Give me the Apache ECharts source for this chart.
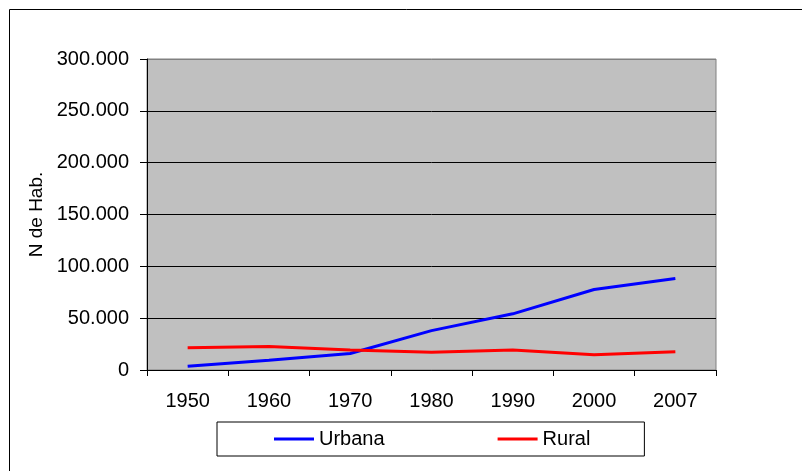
<!DOCTYPE html>
<html>
<head>
<meta charset="utf-8">
<script src="https://cdn.jsdelivr.net/npm/echarts@6/dist/echarts.min.js"></script>
<style>
html,body{margin:0;padding:0;background:#fff;}
#chart{width:802px;height:471px;}
</style>
</head>
<body>
<div id="chart"></div>
<script>
var years = ['1950','1960','1970','1980','1990','2000','2007'];
var urbana = [3600, 9400, 15900, 38000, 54200, 77600, 88300];
var rural = [21400, 22700, 19200, 17200, 19200, 14600, 17500];
var yTicks = [0, 50000, 100000, 150000, 200000, 250000, 300000];

var FONT = '"Liberation Sans", Arial, sans-serif';
var chart = echarts.init(document.getElementById('chart'), null, {renderer: 'canvas'});
function fmt(v) {
  if (v === 0) return '0';
  return String(v).replace(/\B(?=(\d{3})+(?!\d))/g, '.');
}
chart.setOption({
  animation: false,
  backgroundColor: '#fff',
  textStyle: {fontFamily: FONT},
  graphic: [{
    type: 'rect',
    shape: {x: 9.5, y: 9.5, width: 820, height: 480},
    style: {fill: 'none', stroke: '#000', lineWidth: 1},
    silent: true
  }],
  grid: {
    left: 147, right: 86, top: 59, bottom: 101,
    show: true, backgroundColor: '#C0C0C0', borderColor: '#808080', borderWidth: 1
  },
  legend: {
    left: 217, top: 422,
    padding: [7, 54, 7, 57],
    borderColor: '#000', borderWidth: 1,
    icon: 'rect',
    itemWidth: 40, itemHeight: 3, itemGap: 113,
    textStyle: {fontFamily: FONT, fontSize: 20, color: '#000', lineHeight: 19},
    data: ['Urbana', 'Rural']
  },
  xAxis: {
    type: 'category',
    data: years,
    boundaryGap: true,
    axisLine: {lineStyle: {color: '#000', width: 1}},
    axisTick: {show: true, length: 6, lineStyle: {color: '#000'}},
    axisLabel: {fontFamily: FONT, fontSize: 20, color: '#000', margin: 21},
    splitLine: {show: false}
  },
  yAxis: {
    type: 'value',
    min: yTicks[0], max: yTicks[yTicks.length - 1], interval: yTicks[1] - yTicks[0],
    name: 'N de Hab.',
    nameLocation: 'middle',
    nameGap: 100,
    nameRotate: 90,
    nameTextStyle: {fontFamily: FONT, fontSize: 19, color: '#000'},
    axisLine: {show: true, lineStyle: {color: '#000', width: 1}},
    axisTick: {show: true, length: 7, lineStyle: {color: '#000'}},
    axisLabel: {fontFamily: FONT, fontSize: 20, color: '#000', margin: 18, formatter: fmt},
    splitLine: {show: true, lineStyle: {color: ['#000','#000','#000','#000','#000','#000','#808080'], width: 1}}
  },
  series: [{
    name: 'Urbana', type: 'line', data: urbana,
    symbol: 'none', showSymbol: false,
    lineStyle: {color: '#0000FF', width: 3},
    itemStyle: {color: '#0000FF'}
  }, {
    name: 'Rural', type: 'line', data: rural,
    symbol: 'none', showSymbol: false,
    lineStyle: {color: '#FF0000', width: 3},
    itemStyle: {color: '#FF0000'}
  }]
});
</script>
</body>
</html>
